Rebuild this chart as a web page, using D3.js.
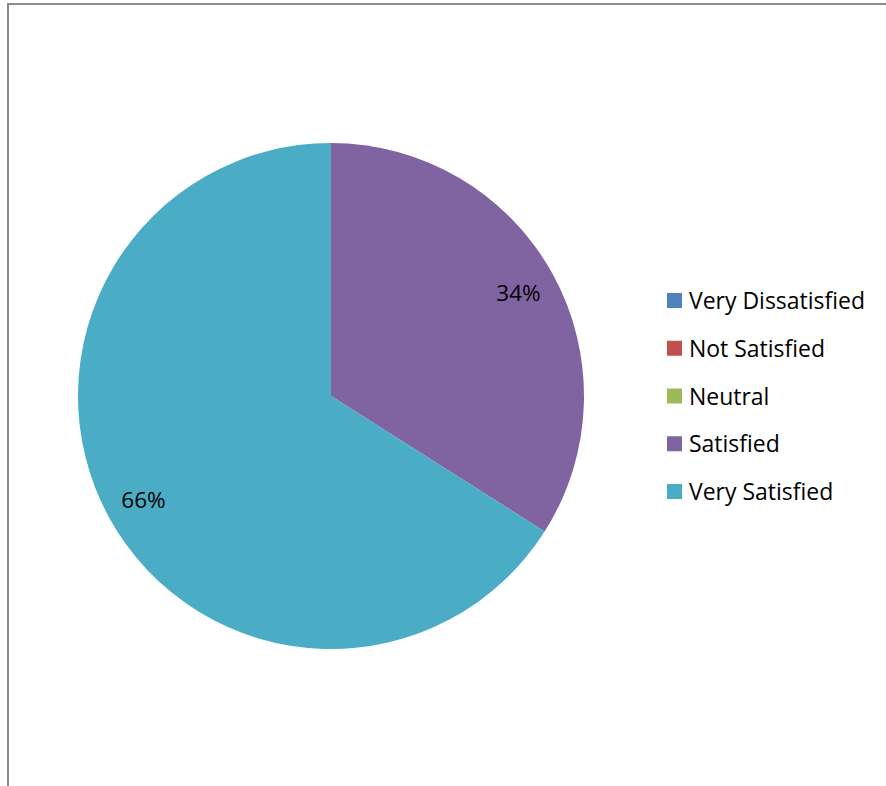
<!DOCTYPE html>
<html><head><meta charset="utf-8">
<script src="https://cdn.jsdelivr.net/npm/d3@7"></script>
<style>html,body{margin:0;padding:0;background:#fff;}</style>
</head><body>
<script>
const categories = ["Very Dissatisfied","Not Satisfied","Neutral","Satisfied","Very Satisfied"];
const values = [0,0,0,34,66];
const colors = ["#4F81BD","#C0504D","#9BBB59","#8064A2","#4BACC6"];

const W = 886, H = 786;
const FONT = "'Open Sans', 'Noto Sans', sans-serif";
const svg = d3.select("body").append("svg").attr("width", W).attr("height", H);

// frame
svg.append("line").attr("x1",8).attr("y1",4).attr("x2",886).attr("y2",4).attr("stroke","#8c8c8c").attr("stroke-width",2);
svg.append("line").attr("x1",8).attr("y1",3).attr("x2",8).attr("y2",786).attr("stroke","#8c8c8c").attr("stroke-width",2);

const cx = 331, cy = 396, R = 253;
const pie = d3.pie().sort(null).value(d => d.v);
const data = pie(categories.map((c,i)=>({c, v: values[i], col: colors[i]})));
const arc = d3.arc().innerRadius(0).outerRadius(R);
const labelArc = d3.arc().innerRadius(214).outerRadius(214);

const g = svg.append("g").attr("transform",`translate(${cx},${cy})`);
g.selectAll("path").data(data.filter(d=>d.data.v>0)).join("path")
  .attr("d", arc).attr("fill", d=>d.data.col);

const total = d3.sum(values);
g.selectAll("text").data(data.filter(d=>d.data.v>0)).join("text")
  .attr("transform", d=>`translate(${labelArc.centroid(d)})`)
  .attr("text-anchor","middle").attr("dominant-baseline","central")
  .attr("font-family",FONT).attr("font-size",22.5)
  .attr("fill","#000")
  .text(d=>Math.round(d.data.v/total*100)+"%");

const leg = svg.append("g");
const ly = d3.scalePoint().domain(categories).range([300,491]);
// fit legend font so the longest entry spans ~176px as in the reference
const probe = svg.append("text").attr("font-family",FONT).attr("font-size",20).text(categories[0]);
const fs = 20 * 176 / probe.node().getComputedTextLength();
probe.remove();
categories.forEach((c,i)=>{
  leg.append("rect").attr("x",667).attr("y",ly(c)-7).attr("width",15).attr("height",15).attr("fill",colors[i]);
  leg.append("text").attr("x",689).attr("y",ly(c)).attr("dominant-baseline","central")
    .attr("font-family",FONT).attr("font-size",fs).attr("fill","#000").text(c);
});
</script>
</body></html>
